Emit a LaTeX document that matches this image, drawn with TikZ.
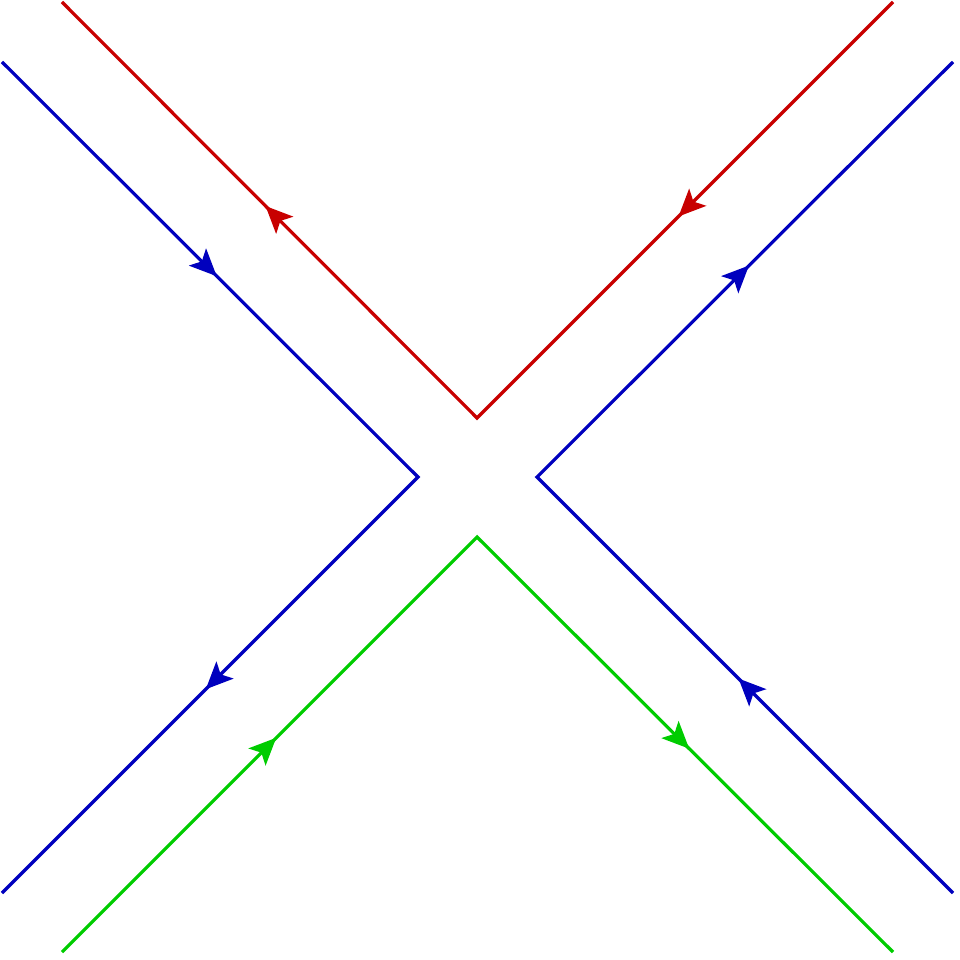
\documentclass[tikz,border=0pt]{standalone}
\usetikzlibrary{arrows.meta,decorations.markings}
\definecolor{cred}{RGB}{200,0,0}
\definecolor{cblue}{RGB}{0,0,190}
\definecolor{cgreen}{RGB}{0,204,0}
\begin{document}
\begin{tikzpicture}[x=1pt,y=-1pt,
  flow/.style={line width=3.2pt,line join=miter,
    postaction={decorate},
    decoration={markings,
      mark=at position 0.258 with {\arrow{Stealth[length=27pt,width=24pt,inset=6pt]}},
      mark=at position 0.755 with {\arrow{Stealth[length=27pt,width=24pt,inset=6pt]}}}}]
\useasboundingbox (0,0) rectangle (960,960);
% red
\coordinate (r1) at (893,2);
\coordinate (rv) at (477,418);
\coordinate (r2) at (62,2);
% left blue
\coordinate (b1) at (2,62);
\coordinate (bv) at (418,477);
\coordinate (b2) at (2,893);
% right blue
\coordinate (c1) at (953,893);
\coordinate (cv) at (537,477);
\coordinate (c2) at (953,62);
% green
\coordinate (g1) at (62,952);
\coordinate (gv) at (477,537);
\coordinate (g2) at (893,952);
\draw[flow,cred] (r1) -- (rv) -- (r2);
\draw[flow,cblue] (b1) -- (bv) -- (b2);
\draw[flow,cblue] (c1) -- (cv) -- (c2);
\draw[flow,cgreen] (g1) -- (gv) -- (g2);
\end{tikzpicture}
\end{document}
